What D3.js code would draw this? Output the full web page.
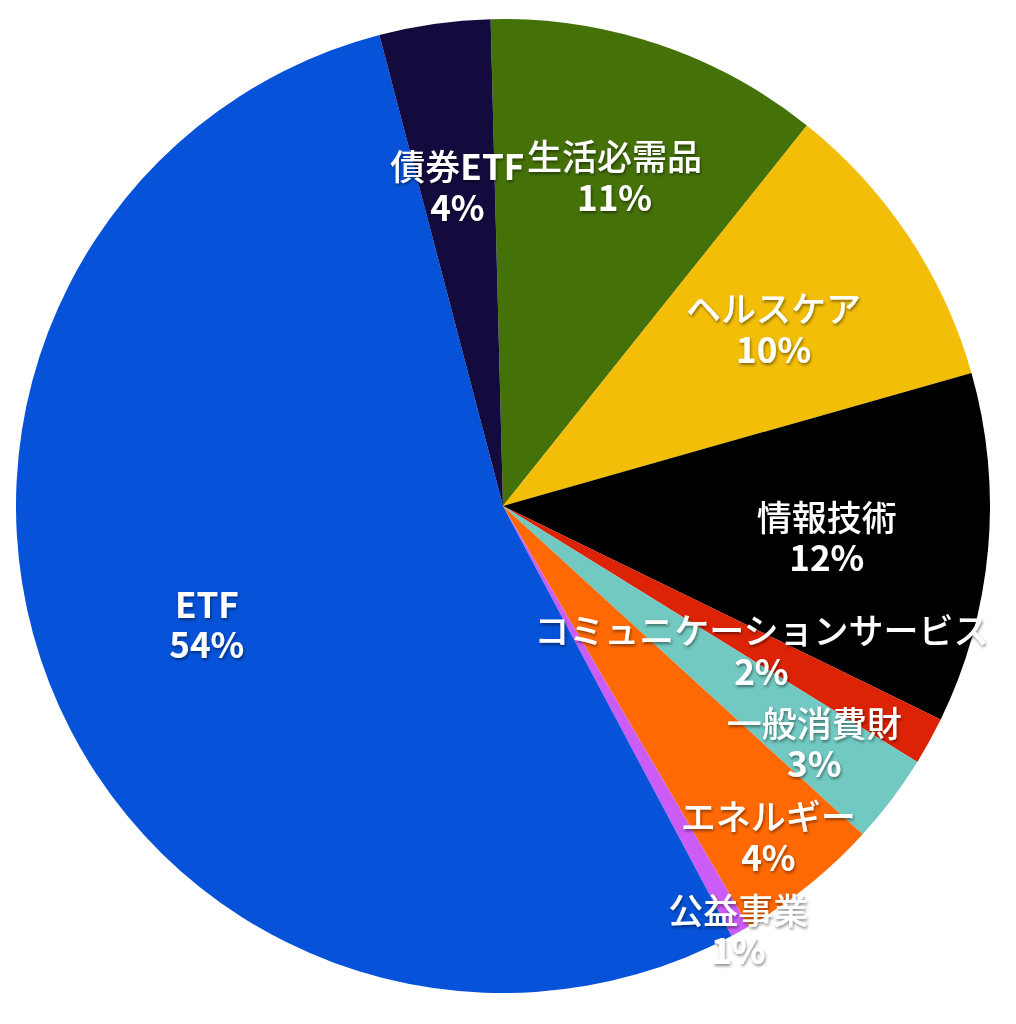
<!DOCTYPE html>
<html lang="ja">

<head>
  <meta charset="utf-8">
  <title>ポートフォリオ</title>
  <style>
    body {
      margin: 0;
      background: #ffffff;
    }

    #chart text {
      fill: #ffffff;
      font-family: "Noto Sans CJK JP", "Noto Sans", sans-serif;
      font-size: 35px;
      text-anchor: middle;
      dominant-baseline: central;
    }
  </style>
</head>

<body>
  <div id="chart"></div>
</body>
<script src="https://d3js.org/d3.v7.min.js"></script>

<script>
  // data, clockwise from the top
  var sectors = ["生活必需品", "ヘルスケア", "情報技術", "コミュニケーションサービス",
    "一般消費財", "エネルギー", "公益事業", "ETF", "債券ETF"];
  var shares = [11.13, 9.87, 11.63, 1.58, 2.97, 4.81, 0.64, 53.69, 3.68];
  var pctLabels = ["11%", "10%", "12%", "2%", "3%", "4%", "1%", "54%", "4%"];
  var colors = ["#457109", "#f2be08", "#000000", "#dc2306",
    "#71c9c1", "#fe6903", "#cc5cf6", "#0652d8", "#130b3e"];

  var width = 1016,
    height = 1024,
    cx = 503,
    cy = 506,
    radius = 487;

  // label distance from centre; small slices got nudged in the original
  var labelR = {
    "生活必需品": 350,
    "コミュニケーションサービス": 295,
    "一般消費財": 390,
    "エネルギー": 422,
    "公益事業": 483,
    "ETF": 318
  };

  var data = sectors.map(function (s, i) {
    return { name: s, value: shares[i], pct: pctLabels[i], color: colors[i] };
  });

  var svg = d3.select("#chart")
    .append("svg")
    .attr("width", width)
    .attr("height", height);

  var defs = svg.append("defs");
  defs.append("filter")
    .attr("id", "shadow")
    .attr("x", "-20%").attr("y", "-40%")
    .attr("width", "140%").attr("height", "180%")
    .append("feDropShadow")
    .attr("dx", 1)
    .attr("dy", 2)
    .attr("stdDeviation", 1.5)
    .attr("flood-color", "#000")
    .attr("flood-opacity", 0.45);

  var g = svg.append("g")
    .attr("transform", "translate(" + cx + "," + cy + ")");

  var start = -1.46 * Math.PI / 180;
  var pie = d3.pie()
    .sort(null)
    .value(function (d) { return d.value; })
    .startAngle(start)
    .endAngle(start + 2 * Math.PI);

  var arc = d3.arc().innerRadius(0).outerRadius(radius);

  var arcs = pie(data);

  g.selectAll("path")
    .data(arcs)
    .enter()
    .append("path")
    .attr("d", arc)
    .attr("fill", function (d) { return d.data.color; });

  var labels = g.selectAll("g.label")
    .data(arcs)
    .enter()
    .append("g")
    .attr("class", "label")
    .attr("filter", "url(#shadow)")
    .attr("transform", function (d) {
      var r = labelR[d.data.name] || 325;
      var p = d3.arc().innerRadius(r).outerRadius(r).centroid(d);
      return "translate(" + p[0] + "," + p[1] + ")";
    });

  var nameText = labels.append("text")
    .attr("y", -20);

  // latin runs bold, kana/kanji medium
  nameText.each(function (d) {
    var t = d3.select(this);
    var parts = d.data.name.match(/[A-Za-z0-9]+|[^A-Za-z0-9]+/g);
    parts.forEach(function (p) {
      t.append("tspan")
        .attr("font-weight", /[A-Za-z0-9]/.test(p) ? 700 : 500)
        .text(p);
    });
  });

  labels.append("text")
    .attr("y", 21)
    .attr("font-weight", 700)
    .text(function (d) { return d.data.pct; });
</script>

</html>
